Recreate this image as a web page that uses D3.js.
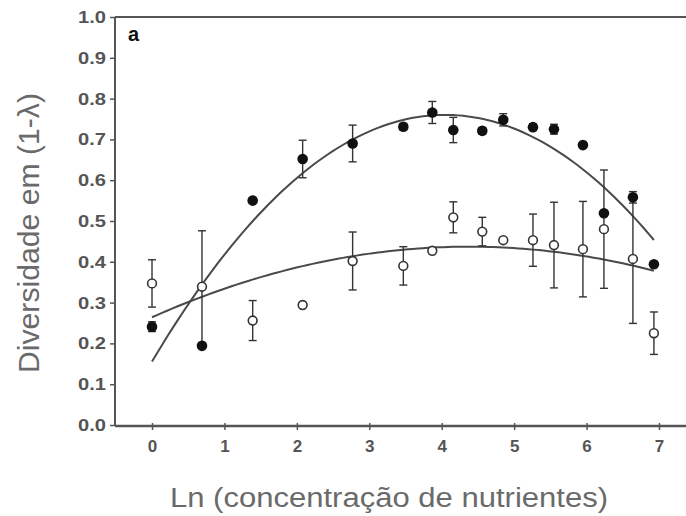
<!DOCTYPE html>
<html>
<head>
<meta charset="utf-8">
<script src="https://cdn.jsdelivr.net/npm/d3@7"></script>
<style>
  html, body { margin: 0; padding: 0; background: #fff; }
  svg { display: block; }
</style>
</head>
<body>
<svg id="chart" width="686" height="516"></svg>
<script>
// Ln of nutrient concentration (doubling series 1, 2, 4, 8 ... 1024 with intermediate steps)
const lnConc = [0, 0.69, 1.39, 2.08, 2.77, 3.47, 3.87, 4.16, 4.56, 4.85, 5.26, 5.55, 5.95, 6.24, 6.64, 6.93];

// Diversity (1 - lambda), filled series
const filledMean = [0.241, 0.194, 0.55, 0.652, 0.69, 0.731, 0.766, 0.723, 0.721, 0.748, 0.73, 0.725, 0.686, 0.519, 0.558, 0.394];
const filledErr  = [0.012, 0, 0, 0.046, 0.045, 0.008, 0.027, 0.031, 0.008, 0.015, 0.008, 0.012, 0, 0, 0.014, 0];

// Diversity (1 - lambda), open series
const openMean = [0.347, 0.339, 0.256, 0.294, 0.402, 0.39, 0.427, 0.509, 0.474, 0.453, 0.453, 0.441, 0.431, 0.48, 0.407, 0.225];
const openErr  = [0.058, 0.137, 0.049, 0, 0.071, 0.047, 0, 0.038, 0.035, 0, 0.064, 0.105, 0.117, 0.145, 0.158, 0.052];

// Quadratic regression coefficients [a, b, c] : y = a + b x + c x^2
const fitFilled = [0.1556, 0.2987, -0.0369];
const fitOpen   = [0.264, 0.0791, -0.00904];

const xTicks = [0, 1, 2, 3, 4, 5, 6, 7];
const yTicks = [0, 0.1, 0.2, 0.3, 0.4, 0.5, 0.6, 0.7, 0.8, 0.9, 1.0];

const svg = d3.select("#chart");
const plotLeft = 115, plotRight = 686, plotTop = 17, plotBottom = 425;

const x = d3.scaleLinear().domain([-0.511, 7.373]).range([plotLeft, plotRight]);
const y = d3.scaleLinear().domain([0, 1]).range([plotBottom, plotTop]);

const axisColor = "#555";
const labelColor = "#6a6a6a";

// frame: left axis and top border
svg.append("line").attr("x1", plotLeft).attr("x2", plotLeft).attr("y1", plotTop).attr("y2", plotBottom + 1)
  .attr("stroke", axisColor).attr("stroke-width", 2);
svg.append("line").attr("x1", plotLeft).attr("x2", plotRight).attr("y1", plotTop).attr("y2", plotTop)
  .attr("stroke", axisColor).attr("stroke-width", 2);

// y axis
const yAxis = d3.axisLeft(y).tickValues(yTicks).tickFormat(d3.format(".1f")).tickSize(5).tickPadding(4);
const gy = svg.append("g").attr("transform", `translate(${plotLeft},0)`).call(yAxis);
gy.select(".domain").remove();
gy.selectAll(".tick line").attr("stroke", axisColor).attr("stroke-width", 1.5);
gy.selectAll(".tick text")
  .attr("fill", "#555").attr("font-family", "Liberation Sans, Arial, sans-serif")
  .attr("font-size", 17).attr("font-weight", "bold")
  .attr("textLength", 28).attr("lengthAdjust", "spacingAndGlyphs");

// x axis
const xAxis = d3.axisBottom(x).tickValues(xTicks).tickFormat(d3.format("d")).tickSize(4).tickPadding(10);
const gx = svg.append("g").attr("transform", `translate(0,${plotBottom + 1})`).call(xAxis);
gx.select(".domain").attr("d", `M${plotLeft},0H${plotRight}`).attr("stroke", axisColor).attr("stroke-width", 2.5);
gx.selectAll(".tick line").attr("stroke", axisColor).attr("stroke-width", 1.5).attr("y1", -3);
gx.selectAll(".tick text")
  .attr("fill", "#555").attr("font-family", "Liberation Sans, Arial, sans-serif")
  .attr("font-size", 17).attr("font-weight", "bold");

// axis titles
svg.append("text")
  .attr("x", 389).attr("y", 507)
  .attr("text-anchor", "middle")
  .attr("font-family", "Liberation Sans, Arial, sans-serif")
  .attr("font-size", 27).attr("fill", labelColor)
  .attr("textLength", 438).attr("lengthAdjust", "spacingAndGlyphs")
  .text("Ln (concentração de nutrientes)");

svg.append("text")
  .attr("transform", "translate(39,233) rotate(-90)")
  .attr("text-anchor", "middle")
  .attr("font-family", "Liberation Sans, Arial, sans-serif")
  .attr("font-size", 29).attr("fill", labelColor)
  .attr("textLength", 280).attr("lengthAdjust", "spacingAndGlyphs")
  .text("Diversidade em (1-λ)");

// panel letter
svg.append("text")
  .attr("x", 128).attr("y", 41)
  .attr("font-family", "Liberation Sans, Arial, sans-serif")
  .attr("font-size", 20).attr("font-weight", "bold").attr("fill", "#111")
  .text("a");

// regression curves
const quad = c => v => c[0] + c[1] * v + c[2] * v * v;
const xFirst = lnConc[0], xLast = lnConc[lnConc.length - 1];
const curveXs = d3.range(0, 101).map(i => xFirst + (xLast - xFirst) * i / 100);
const line = d3.line().x(d => x(d[0])).y(d => y(d[1]));
[fitFilled, fitOpen].forEach(c => {
  const f = quad(c);
  svg.append("path")
    .attr("d", line(curveXs.map(v => [v, f(v)])))
    .attr("fill", "none").attr("stroke", "#4a4a4a").attr("stroke-width", 2);
});

// error bars
function errorBars(means, errs) {
  const g = svg.append("g").attr("stroke", "#333").attr("stroke-width", 1.4);
  lnConc.forEach((v, i) => {
    const e = errs[i];
    if (!e) return;
    const cx = x(v), y0 = y(means[i] - e), y1 = y(means[i] + e);
    g.append("line").attr("x1", cx).attr("x2", cx).attr("y1", y0).attr("y2", y1);
    g.append("line").attr("x1", cx - 4).attr("x2", cx + 4).attr("y1", y0).attr("y2", y0);
    g.append("line").attr("x1", cx - 4).attr("x2", cx + 4).attr("y1", y1).attr("y2", y1);
  });
}
errorBars(openMean, openErr);
errorBars(filledMean, filledErr);

// open markers
svg.append("g").selectAll("circle").data(lnConc).join("circle")
  .attr("cx", d => x(d)).attr("cy", (d, i) => y(openMean[i])).attr("r", 4.4)
  .attr("fill", "#fff").attr("stroke", "#333").attr("stroke-width", 1.6);

// filled markers
svg.append("g").selectAll("circle").data(lnConc).join("circle")
  .attr("cx", d => x(d)).attr("cy", (d, i) => y(filledMean[i])).attr("r", 5.3)
  .attr("fill", "#111");
</script>
</body>
</html>
